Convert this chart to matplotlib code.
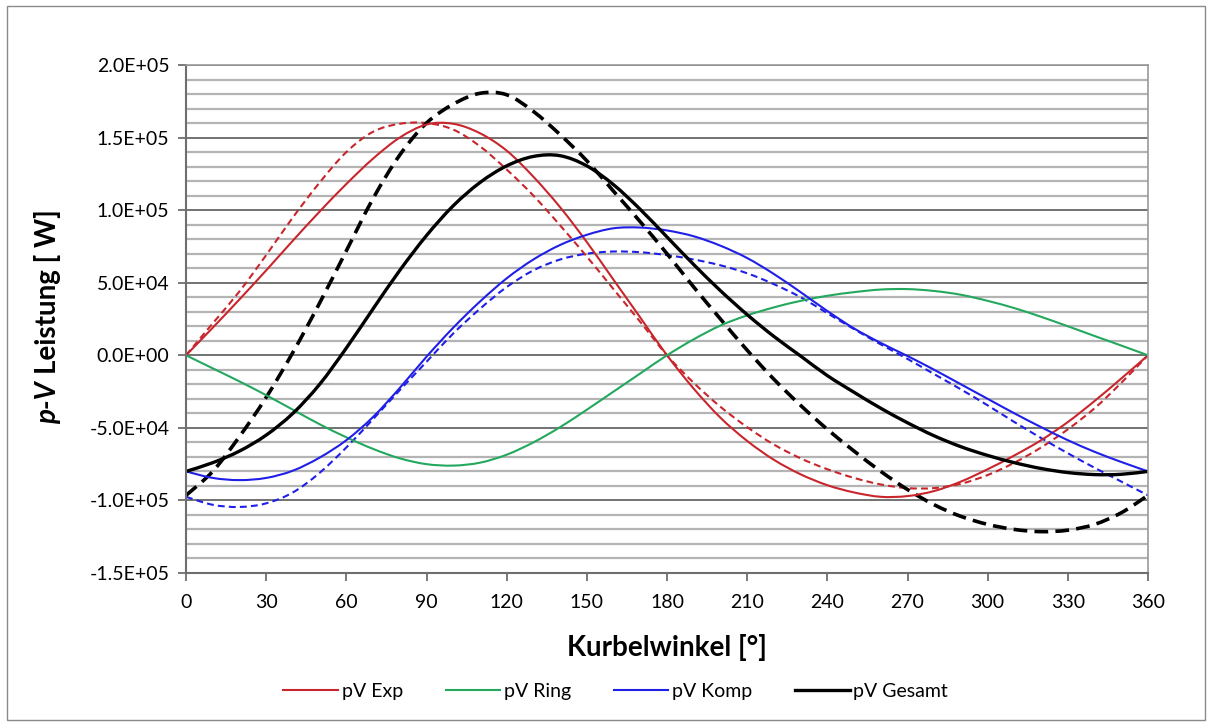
"""
plot.py

pV-Leistung ueber Kurbelwinkel, nachgebaut mit matplotlib.
"""

import matplotlib
matplotlib.use("Agg")
import matplotlib.pyplot as plt
from matplotlib.patches import Rectangle, PathPatch
from matplotlib.path import Path
from matplotlib.lines import Line2D
from matplotlib.ticker import MultipleLocator, FuncFormatter

# Kurbelwinkel in Grad
winkel = list(range(0, 361, 10))

# Werte in W (Einheit 1E+05)
exp_voll = [0.00, 0.19, 0.385, 0.585, 0.79, 0.99, 1.18, 1.355, 1.50, 1.59,
            1.595, 1.53, 1.41, 1.23, 1.02, 0.78, 0.52, 0.26, 0.00, -0.23,
            -0.43, -0.59, -0.72, -0.82, -0.895, -0.945, -0.975, -0.97, -0.935, -0.87,
            -0.785, -0.69, -0.585, -0.46, -0.315, -0.16, 0.00]
exp_strich = [0.00, 0.22, 0.44, 0.69, 0.95, 1.19, 1.40, 1.54, 1.595, 1.60,
              1.555, 1.44, 1.28, 1.10, 0.895, 0.68, 0.455, 0.23, 0.00, -0.19,
              -0.355, -0.495, -0.615, -0.71, -0.785, -0.845, -0.89, -0.915, -0.915, -0.885,
              -0.825, -0.74, -0.635, -0.51, -0.365, -0.19, 0.00]
ring = [0.00, -0.09, -0.18, -0.275, -0.375, -0.475, -0.565, -0.645, -0.71, -0.75,
        -0.76, -0.74, -0.685, -0.60, -0.495, -0.375, -0.25, -0.125, 0.00, 0.11,
        0.205, 0.275, 0.33, 0.375, 0.41, 0.435, 0.453, 0.456, 0.443, 0.417,
        0.375, 0.325, 0.265, 0.20, 0.133, 0.067, 0.00]
komp_voll = [-0.80, -0.845, -0.86, -0.845, -0.795, -0.705, -0.585, -0.425, -0.225, -0.01,
             0.19, 0.37, 0.53, 0.66, 0.76, 0.83, 0.875, 0.88, 0.86, 0.82,
             0.755, 0.67, 0.56, 0.435, 0.305, 0.185, 0.085, -0.005, -0.10, -0.20,
             -0.30, -0.40, -0.495, -0.585, -0.665, -0.735, -0.80]
komp_strich = [-0.975, -1.03, -1.045, -1.02, -0.945, -0.81, -0.635, -0.44, -0.24, -0.045,
               0.15, 0.32, 0.47, 0.585, 0.66, 0.70, 0.715, 0.71, 0.69, 0.66,
               0.62, 0.565, 0.49, 0.40, 0.29, 0.18, 0.075, -0.025, -0.13, -0.235,
               -0.345, -0.46, -0.57, -0.675, -0.775, -0.87, -0.965]
gesamt_voll = [-0.80, -0.74, -0.66, -0.55, -0.40, -0.20, 0.05, 0.32, 0.585, 0.825,
               1.03, 1.19, 1.305, 1.37, 1.375, 1.305, 1.175, 1.005, 0.815, 0.625,
               0.445, 0.28, 0.13, -0.005, -0.14, -0.255, -0.365, -0.465, -0.555, -0.63,
               -0.69, -0.74, -0.78, -0.808, -0.822, -0.82, -0.80]
gesamt_strich = [-0.965, -0.80, -0.56, -0.29, 0.02, 0.36, 0.72, 1.08, 1.38, 1.60,
                 1.73, 1.805, 1.795, 1.68, 1.52, 1.34, 1.13, 0.92, 0.70, 0.47,
                 0.25, 0.035, -0.165, -0.345, -0.51, -0.66, -0.80, -0.925, -1.03, -1.11,
                 -1.165, -1.20, -1.215, -1.205, -1.165, -1.085, -0.965]

ROT = "#C8262C"
GRUEN = "#23A85E"
BLAU = "#1F1FE8"
SCHWARZ = "#000000"

plt.rcParams["font.family"] = ["Lato", "DejaVu Sans"]


def skaliert(werte):
    return [w * 1e5 for w in werte]


def glatte_linie(ax, x, y, **kw):
    # geglaettete Linie wie in Excel (Bezier durch die Messpunkte)
    pts = list(zip(x, y))
    n = len(pts)
    verts = [pts[0]]
    codes = [Path.MOVETO]
    for i in range(n - 1):
        p0 = pts[max(i - 1, 0)]
        p1 = pts[i]
        p2 = pts[i + 1]
        p3 = pts[min(i + 2, n - 1)]
        c1 = (p1[0] + (p2[0] - p0[0]) / 6, p1[1] + (p2[1] - p0[1]) / 6)
        c2 = (p2[0] - (p3[0] - p1[0]) / 6, p2[1] - (p3[1] - p1[1]) / 6)
        verts += [c1, c2, p2]
        codes += [Path.CURVE4] * 3
    ax.add_patch(PathPatch(Path(verts, codes), fill=False, **kw))


fig = plt.figure(figsize=(12.12, 7.24), dpi=100)
fig.patches.append(Rectangle((7 / 1212, 4 / 724), 1198 / 1212, 714 / 724,
                             transform=fig.transFigure, fill=False,
                             edgecolor="#8a8a8a", linewidth=1.0))

ax = fig.add_axes([186 / 1212, 1 - 573 / 724, 962 / 1212, 508 / 724])

glatte_linie(ax, winkel, skaliert(exp_strich), edgecolor=ROT, lw=1.5, ls=(0, (3.3, 2)))
glatte_linie(ax, winkel, skaliert(komp_strich), edgecolor=BLAU, lw=1.5, ls=(0, (3.3, 2)))
glatte_linie(ax, winkel, skaliert(gesamt_strich), edgecolor=SCHWARZ, lw=2.6, ls=(0, (3.8, 2)))
glatte_linie(ax, winkel, skaliert(exp_voll), edgecolor=ROT, lw=1.5)
glatte_linie(ax, winkel, skaliert(ring), edgecolor=GRUEN, lw=1.5)
glatte_linie(ax, winkel, skaliert(komp_voll), edgecolor=BLAU, lw=1.5)
glatte_linie(ax, winkel, skaliert(gesamt_voll), edgecolor=SCHWARZ, lw=2.4)

ax.set_xlim(0, 360)
ax.set_ylim(-1.5e5, 2.0e5)
ax.xaxis.set_major_locator(MultipleLocator(30))
ax.yaxis.set_major_locator(MultipleLocator(5e4))
ax.yaxis.set_minor_locator(MultipleLocator(1e4))
ax.yaxis.set_major_formatter(FuncFormatter(lambda v, p: f"{v:.1E}"))

ax.grid(True, which="minor", axis="y", color="#b4b4b4", lw=1.6)
ax.grid(True, which="major", axis="y", color="#5a5a5a", lw=1.2)
ax.set_axisbelow(True)

for s in ["left", "bottom"]:
    ax.spines[s].set_color("#6e6e6e")
    ax.spines[s].set_linewidth(1.5)
for s in ["top", "right"]:
    ax.spines[s].set_color("#9a9a9a")
    ax.spines[s].set_linewidth(1.2)

ax.tick_params(axis="both", which="major", direction="out", length=6,
               width=1.3, color="#6e6e6e", labelsize=14, pad=6)
ax.tick_params(axis="x", which="major", pad=9)
ax.tick_params(axis="y", which="minor", length=0)

ax.set_xlabel("Kurbelwinkel [°]", fontsize=20, fontweight="bold", labelpad=17)

# y-Beschriftung mit kursivem p-V
fig.text(48 / 1212, 1 - 381 / 724, "p-V", rotation=90, fontsize=20,
         fontweight="bold", fontstyle="italic", ha="center", va="top")
fig.text(48 / 1212, 1 - 374 / 724, "Leistung [ W]", rotation=90, fontsize=20,
         fontweight="bold", ha="center", va="bottom")

griffe = [Line2D([], [], color=ROT, lw=1.5),
          Line2D([], [], color=GRUEN, lw=1.5),
          Line2D([], [], color=BLAU, lw=1.5),
          Line2D([], [], color=SCHWARZ, lw=2.4)]
fig.legend(griffe, ["pV Exp", "pV Ring", "pV Komp", "pV Gesamt"],
           loc="center", bbox_to_anchor=(0.508, 0.045), ncol=4, frameon=False,
           fontsize=14, handlelength=2.8, handletextpad=0.2, columnspacing=2.2)

fig.savefig("out.png", dpi=100)
